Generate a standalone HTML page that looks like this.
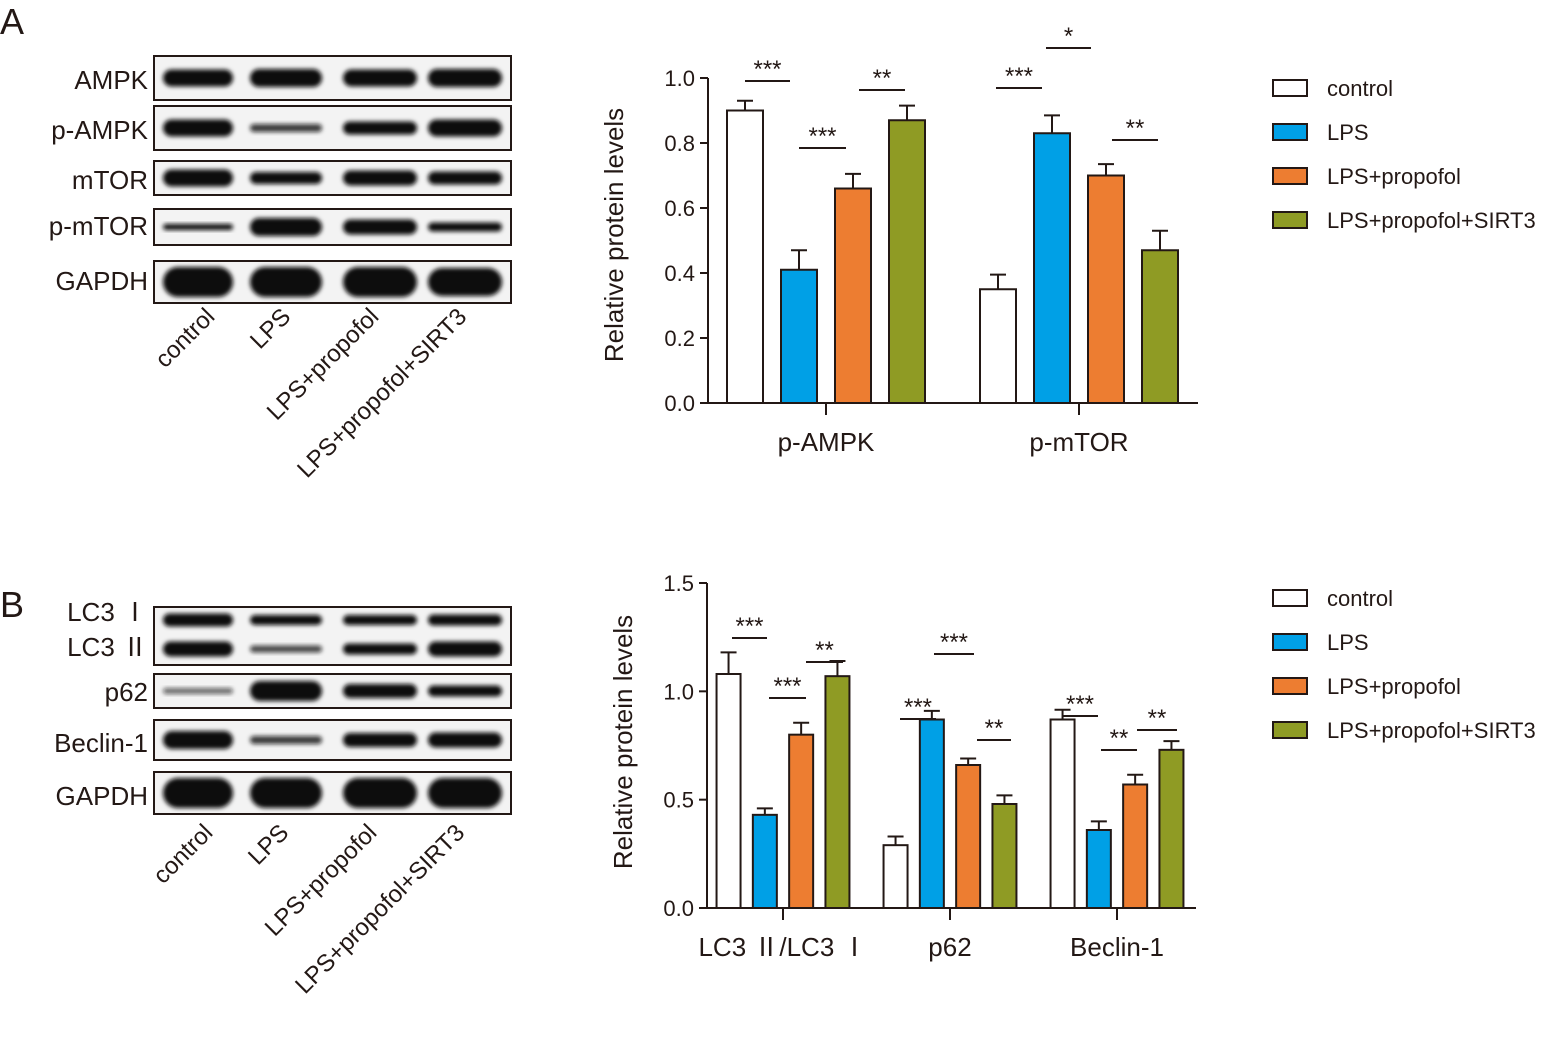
<!DOCTYPE html>
<html><head><meta charset="utf-8"><style>
body{margin:0;background:#fff}
svg{display:block;font-family:"Liberation Sans","Noto Sans CJK SC",sans-serif}
</style></head><body>
<svg id="fig" width="1564" height="1048" viewBox="0 0 1564 1048">
<defs><filter id="blur" x="-20%" y="-50%" width="140%" height="200%"><feGaussianBlur stdDeviation="2.2"/></filter></defs>
<text x="0" y="34" font-size="36" fill="#231815">A</text>
<text x="0" y="617" font-size="36" fill="#231815">B</text>
<g id="blots"></g>
<g id="chartA"></g>
<g id="chartB"></g>
</svg>
<script>
const NS="http://www.w3.org/2000/svg";
const svg=document.getElementById('fig');
function el(tag,attrs,parent,txt){const e=document.createElementNS(NS,tag);for(const k in attrs)e.setAttribute(k,attrs[k]);if(txt!==undefined)e.textContent=txt;(parent||svg).appendChild(e);return e;}

// ---------- Chart data ----------
const groups=['control','LPS','LPS+propofol','LPS+propofol+SIRT3'];
const colors=['#ffffff','#00a0e6','#ed7d31','#8f9b24'];
const catsA=['p-AMPK','p-mTOR'];
const meanA_control=[0.90,0.35];
const meanA_lps=[0.41,0.83];
const meanA_prop=[0.66,0.70];
const meanA_sirt=[0.87,0.47];
const errA_control=[0.03,0.045];
const errA_lps=[0.06,0.055];
const errA_prop=[0.045,0.035];
const errA_sirt=[0.045,0.06];
const ticksA=['0.0','0.2','0.4','0.6','0.8','1.0'];

const catsB=['LC3 Ⅱ/LC3 Ⅰ','p62','Beclin-1'];
const meanB_control=[1.08,0.29,0.87];
const meanB_lps=[0.43,0.87,0.36];
const meanB_prop=[0.80,0.66,0.57];
const meanB_sirt=[1.07,0.48,0.73];
const errB_control=[0.10,0.04,0.045];
const errB_lps=[0.03,0.04,0.04];
const errB_prop=[0.055,0.03,0.045];
const errB_sirt=[0.07,0.04,0.04];
const ticksB=['0.0','0.5','1.0','1.5'];

function chart(o){
  const g=document.getElementById(o.id);
  const y=v=>o.y0-(v/o.ymax)*(o.y0-o.ytop);
  el('line',{x1:o.x0,y1:o.ytop,x2:o.x0,y2:o.y0+1,stroke:'#231815','stroke-width':2},g);
  el('line',{x1:o.x0,y1:o.y0,x2:o.xend,y2:o.y0,stroke:'#231815','stroke-width':2},g);
  o.ticks.forEach(t=>{
    const yy=y(parseFloat(t));
    const l=el('line',{x1:o.x0-8,y1:yy,x2:o.x0,y2:yy,stroke:'#231815','stroke-width':2},g);
    
    const tx=el('text',{x:o.x0-13,y:yy+8,'font-size':22,'text-anchor':'end',fill:'#231815'},g,t);
    
    
  });
  const t=el('text',{x:0,y:0,'font-size':26,'text-anchor':'middle',fill:'#231815',transform:`translate(${o.titleX},${o.titleY}) rotate(-90)`},g,'Relative protein levels');
  
  
  o.cats.forEach((c,i)=>{
    const cx=o.catX0+i*o.catStep;
    const tk=el('line',{x1:cx,y1:o.y0,x2:cx,y2:o.y0+12,stroke:'#231815','stroke-width':2},g);
    
    const lb=el('text',{x:cx,y:o.y0+48,'font-size':26,'text-anchor':'middle',fill:'#231815'},g,c);
    
    
    o.series.forEach((s,k)=>{
      const bx=cx+(k-1.5)*o.barStep-o.barW/2;
      const top=y(s[i]);
      const et=y(s[i]+o.errs[k][i]);
      const e1=el('line',{x1:bx+o.barW/2,y1:et,x2:bx+o.barW/2,y2:top,stroke:'#231815','stroke-width':2},g);
      
      const e2=el('line',{x1:bx+o.barW/2-8,y1:et,x2:bx+o.barW/2+8,y2:et,stroke:'#231815','stroke-width':2},g);
      
      const r=el('rect',{x:bx,y:top,width:o.barW,height:o.y0-top,fill:colors[k],stroke:'#231815','stroke-width':2},g);
      
      
    });
  });
  o.sig.forEach(s=>{
    const l=el('line',{x1:s[0],y1:s[2],x2:s[1],y2:s[2],stroke:'#231815','stroke-width':2},g);
    
    const tx=el('text',{x:(s[0]+s[1])/2,y:s[2]-4,'font-size':24,'text-anchor':'middle',fill:'#231815'},g,s[3]);
    
    
  });
  groups.forEach((n,k)=>{
    const ly=o.legY+k*44;
    const r=el('rect',{x:1273,y:ly,width:34,height:16,fill:colors[k],stroke:'#231815','stroke-width':2},g);
    
    
    const tx=el('text',{x:1327,y:ly+16,'font-size':22,fill:'#231815'},g,n);
    
    
  });
}
chart({id:'chartA',x0:708,xend:1198,y0:403,ytop:78,ymax:1.0,ticks:ticksA,cats:catsA,catX0:826,catStep:253,barStep:54,barW:36,
  series:[meanA_control,meanA_lps,meanA_prop,meanA_sirt],errs:[errA_control,errA_lps,errA_prop,errA_sirt],
  titleX:623,titleY:235,legY:80,
  sig:[[745,790,81,'***'],[799,846,148,'***'],[859,905,90,'**'],[996,1042,88,'***'],[1046,1091,48,'*'],[1112,1158,140,'**']]});
chart({id:'chartB',x0:707,xend:1196,y0:908,ytop:583,ymax:1.5,ticks:ticksB,cats:catsB,catX0:783,catStep:167,barStep:36.3,barW:24,
  series:[meanB_control,meanB_lps,meanB_prop,meanB_sirt],errs:[errB_control,errB_lps,errB_prop,errB_sirt],
  titleX:632,titleY:742,legY:590,
  sig:[[732,767,638,'***'],[769,806,698,'***'],[806,843,662,'**'],[900,936,719,'***'],[934,974,654,'***'],[977,1011,740,'**'],[1062,1098,716,'***'],[1101,1137,750,'**'],[1137,1177,730,'**']]});

// ---------- Western blots ----------
const blots=document.getElementById('blots');
const laneX=[198,286,380,465];
const laneW=[70,72,74,74];
function blot(label,top,h,bands,lbl){
  const r=el('rect',{x:154,y:top,width:357,height:h,fill:'#f3f3f3',stroke:'#231815','stroke-width':2},blots);
  
  
  bands.forEach(b=>{
    b[1].forEach((th,i)=>{
      const e=el('rect',{x:laneX[i]-laneW[i]/2,y:b[0]-th/2,width:laneW[i],height:th,rx:th/2,fill:'#0d0b0b',filter:'url(#blur)','fill-opacity':b[2]?b[2][i]:1},blots);
      
    });
  });
  lbl.forEach(l=>{
    const t=el('text',{x:148,y:l[1],'font-size':26,'text-anchor':'end',fill:'#231815'},blots,l[0]);
    
    
  });
}
blot('AMPK',56,44,[[78,[17,18,17,18]]],[['AMPK',89]]);
blot('p-AMPK',106,44,[[128,[17,8,13,17],[1,0.8,1,1]]],[['p-AMPK',139]]);
blot('mTOR',161,34,[[178,[17,12,15,13]]],[['mTOR',189]]);
blot('p-mTOR',209,36,[[227,[6,18,15,9]]],[['p-mTOR',235]]);
blot('GAPDH',261,42,[[282,[30,30,30,28]]],[['GAPDH',290]]);
blot('LC3',607,58,[[620,[13,10,10,11]],[[649],[15,7,11,15],[1,0.75,1,1]]],[['LC3 Ⅰ',621],['LC3 Ⅱ',656]]);
blot('p62',674,34,[[691,[6,20,14,11],[0.6,1,1,1]]],[['p62',701]]);
blot('Beclin-1',720,40,[[740,[18,8,14,15],[1,0.8,1,1]]],[['Beclin-1',752]]);
blot('GAPDH-b',772,42,[[793,[30,30,30,30]]],[['GAPDH',805]]);

const laneLabels=['control','LPS','LPS+propofol','LPS+propofol+SIRT3'];
const endXA=[216,292,380,468];
[[318],[834]].forEach((yy,p)=>{
  laneLabels.forEach((n,i)=>{
    const x=endXA[i]-(p?2:0);
    const t=el('text',{x:0,y:0,'font-size':24,'text-anchor':'end',fill:'#231815',transform:`translate(${x},${yy[0]}) rotate(-45)`},blots,n);
    
    
  });
});
</script>
</body></html>
